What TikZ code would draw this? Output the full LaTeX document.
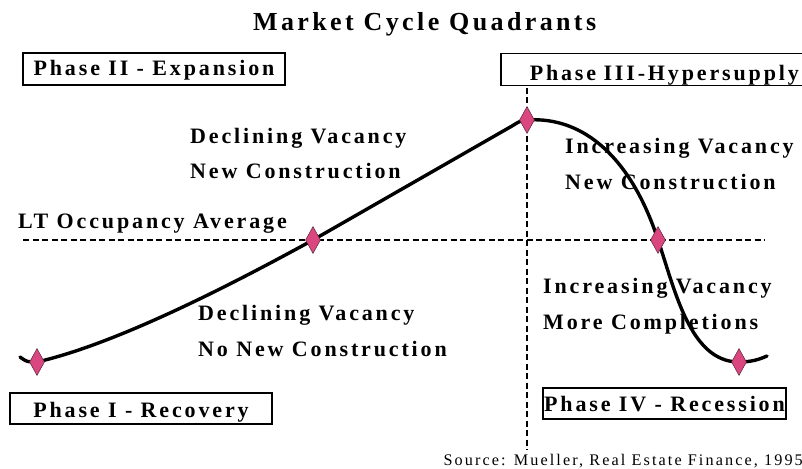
\documentclass[tikz,border=0pt]{standalone}
\usepackage{fontspec}
\setmainfont{Liberation Serif}[LetterSpace=13]
\usetikzlibrary{shapes.geometric}
\definecolor{pinkfill}{RGB}{217,70,128}
\definecolor{pinkline}{RGB}{90,40,60}
\tikzset{
  lbl/.style={anchor=base west, inner sep=0pt, font=\fontsize{22}{26}\selectfont\bfseries},
  phasebox/.style={draw, line width=1.5pt, inner sep=0pt, text depth=0pt,
     font=\fontsize{22}{26}\selectfont\bfseries},
  marker/.style={diamond, draw=pinkline, line width=0.5pt, fill=pinkfill, inner sep=0pt,
     minimum width=15pt, minimum height=27pt},
  cycle/.style={line width=3.4pt, line cap=round},
  avgline/.style={dashed, dash pattern=on 6pt off 3.5pt, line width=1.3pt}
}
\begin{document}
\begin{tikzpicture}[x=1pt,y=-1pt]
\useasboundingbox (0,0) rectangle (802,468);
% title
\node[lbl, font=\fontsize{26}{30}\selectfont\bfseries] (title) at (253,31) {Market Cycle Quadrants};
% phase boxes
\node[phasebox, minimum width=262pt, minimum height=32pt, text height=14pt] (p2) at (154,69) {Phase II - Expansion};
\node[phasebox, anchor=north west, minimum height=32pt, text height=22pt, text width=290pt, align=left, inner xsep=29pt] (p3) at (500,53) {Phase III-Hypersupply};
\node[phasebox, minimum width=262pt, minimum height=31pt, text height=17pt] (p1) at (141,408.5) {Phase I - Recovery};
\node[phasebox, minimum width=243pt, minimum height=31pt, text height=15pt] (p4) at (664.5,403.5) {Phase IV - Recession};
% dashed reference lines
\coordinate (hl) at (23,240);
\coordinate (hr) at (765,240);
\coordinate (vt) at (527,88);
\coordinate (vb) at (527,450);
\draw[avgline] (hl) -- (hr);
\draw[avgline] (vt) -- (vb);
% cycle curve
\coordinate (c0) at (20,357);
\coordinate (d1) at (37,362);
\coordinate (d2) at (313,240);
\coordinate (d3) at (527,120);
\coordinate (d4) at (658,240);
\coordinate (d5) at (739,362);
\coordinate (c6) at (767,356);
\draw[cycle] (c0) .. controls (27,362) .. (d1)
  .. controls (120,343) and (240,280) .. (d2)
  -- (512,126) .. controls (520,121) .. (d3)
  .. controls (585,116) and (632,160) .. (d4)
  .. controls (675,290) and (690,362) .. (d5)
  .. controls (750,362) and (758,360) .. (c6);
% markers
\node[marker] (m1) at (d1) {};
\node[marker] (m2) at (d2) {};
\node[marker] (m3) at (d3) {};
\node[marker] (m4) at (d4) {};
\node[marker] (m5) at (d5) {};
% labels
\node[lbl] (t1) at (190,143) {Declining Vacancy};
\node[lbl] (t2) at (190,178) {New Construction};
\node[lbl] (t3) at (18,228) {LT Occupancy Average};
\node[lbl] (t4) at (565,153) {Increasing Vacancy};
\node[lbl] (t5) at (565,189) {New Construction};
\node[lbl] (t6) at (198,320) {Declining Vacancy};
\node[lbl] (t7) at (198,356) {No New Construction};
\node[lbl] (t8) at (543,293) {Increasing Vacancy};
\node[lbl] (t9) at (543,329) {More Completions};
\node[lbl, anchor=base east, font=\fontsize{16.2}{19}\selectfont] (src) at (803,465) {Source: Mueller, Real Estate Finance, 1995};
\end{tikzpicture}
\end{document}
